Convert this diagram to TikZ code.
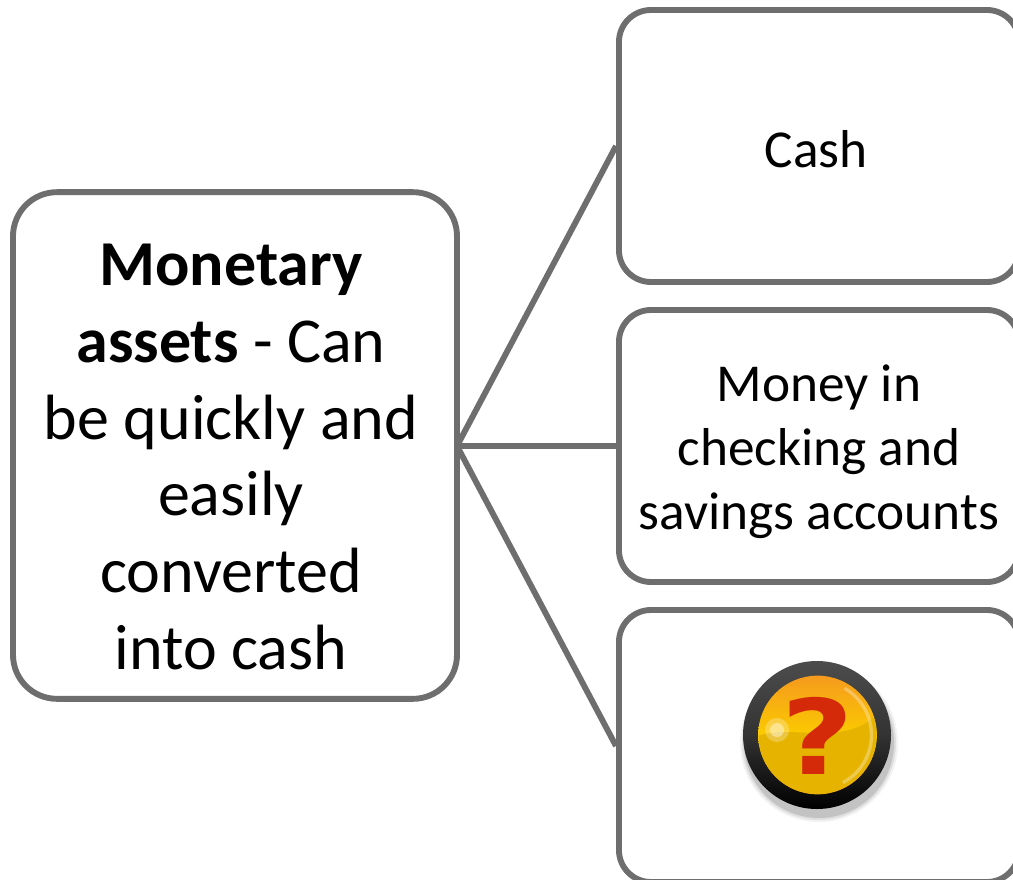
\documentclass[tikz,border=0pt]{standalone}
\usepackage{fontspec}
\setmainfont{Carlito}
\newfontfamily\markfont{DejaVu Sans}
\newcommand\topgap[1]{\rule{0pt}{\dimexpr\fontcharht\font`h+#1\relax}}
\definecolor{boxline}{HTML}{6E6E6E}
\definecolor{btnyellow}{HTML}{FBCB00}
\definecolor{btnamber}{HTML}{E6B400}
\definecolor{btnorange}{HTML}{F59A1E}
\definecolor{btnred}{HTML}{D42A0A}
\tikzset{
    itembox/.style={draw=boxline, line width=4.4pt, rounded corners=24pt, align=flush center, inner sep=0pt, minimum width=300pt, minimum height=204pt, text width=285pt, font=\fontsize{40}{48}\selectfont},
    mainbox/.style={itembox, rounded corners=33pt, minimum width=333pt, minimum height=380pt, text width=320pt, font=\fontsize{48}{57.5}\selectfont},
    link/.style={draw=boxline, line width=4.4pt},
}
\begin{document}
\begin{tikzpicture}[x=0.75pt, y=-0.75pt]
    \path[use as bounding box, clip] (0,0) rectangle (1013,880);
    \fill[white] (0,0) rectangle (1013,880);
    \coordinate (hub) at (457,446);
    \node[mainbox] (monetary) at (235,445.5) {\topgap{15pt}\hspace*{-6pt}\textbf{Monetary}\\\hspace*{-6pt}\textbf{assets} - Can\\\hspace*{-6pt}be quickly and\\\hspace*{-6pt}easily\\\hspace*{-6pt}converted\\\hspace*{-6pt}into cash};
    \node[itembox, anchor=west] (cash) at (616,146) {\topgap{5pt}\hspace*{-4pt}Cash};
    \node[itembox, anchor=west] (money) at (616,446) {\topgap{8pt}Money in\\checking and\\savings accounts};
    \node[itembox, anchor=west] (other) at (616,746) {};
    \draw[link] (hub)--(cash.west);
    \draw[link] (hub)--(money.west);
    \draw[link] (hub)--(other.west);
    % button with soft shadow
    \foreach \r/\o in {79/.05, 77/.08, 75/.12}
        \fill[black, opacity=\o] (819,743) circle (\r);
    \node[circle, minimum size=111pt, inner sep=0pt, top color=black!70, bottom color=black, middle color=black!80] (button) at (817,735) {};
    \node[circle, minimum size=89pt, inner sep=0pt, top color=btnorange, bottom color=btnorange!70!btnyellow, middle color=btnyellow] (face) at (817.5,735) {};
    \begin{scope}
        \clip (817.5,735) circle (59);
        \fill[btnamber] (755,737)..controls (790,722) and (850,750)..(880,710)--(880,800)--(755,800)--cycle;
        \fill[white, opacity=.25] (777,730) circle (12);
        \fill[white, opacity=.4] (777,730) circle (7);
        \draw[white, opacity=.3, line width=2.5pt] (817.5,735) ++(-60:54) arc (-60:62:54);
    \end{scope}
    \node[text=btnred, font=\fontsize{78}{78}\markfont\bfseries] (mark) at (818,736) {\scalebox{1.2}[1]{?}};
\end{tikzpicture}
\end{document}
